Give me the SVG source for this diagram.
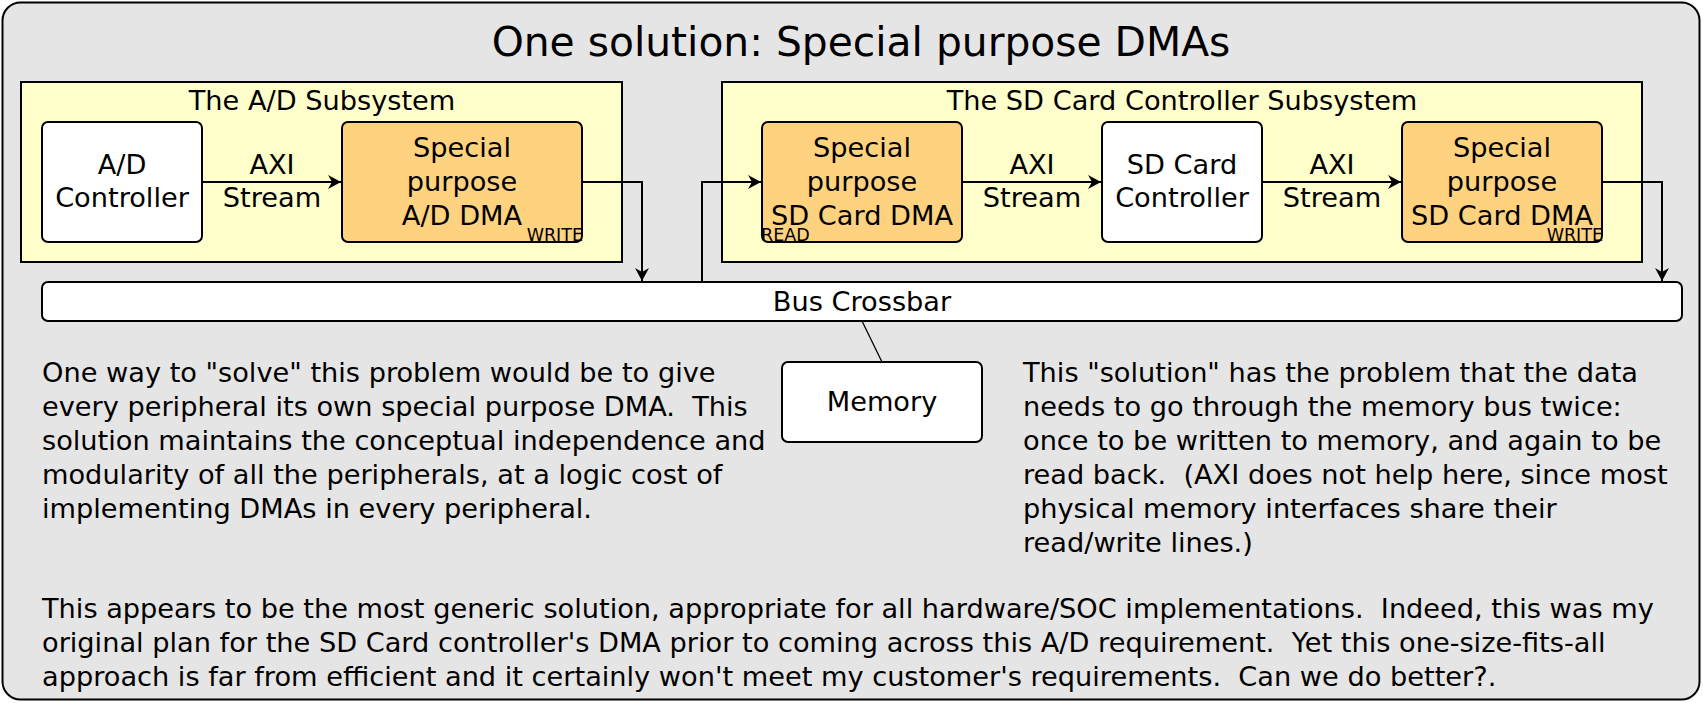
<svg xmlns="http://www.w3.org/2000/svg" width="1703" height="703" viewBox="0 0 1703 703">
<style>
text{font-family:"DejaVu Sans","Liberation Sans",sans-serif;fill:#000;white-space:pre}
.t{font-size:27.2px}
.c{text-anchor:middle}
.s{font-size:17.5px}
.box{stroke:#000;stroke-width:2}
.w{fill:#fff}
.o{fill:#ffd27f}
.sub{fill:#ffffcc;stroke:#000;stroke-width:2}
.ln{fill:none;stroke:#000;stroke-width:2}
</style>
<defs>
<marker id="ah" markerWidth="14" markerHeight="14" refX="13" refY="7" orient="auto" markerUnits="userSpaceOnUse">
<path d="M0,0 L13,7 L0,14 L4,7 z" fill="#000"/>
</marker>
</defs>
<rect x="2.5" y="2.5" width="1697" height="697" rx="18" fill="#e5e5e5" stroke="#000" stroke-width="2"/>
<text x="861" y="56" class="c" style="font-size:40.8px">One solution: Special purpose DMAs</text>

<g id="ad-subsystem">
<rect class="sub" x="21" y="82" width="601" height="180"/>
<text x="322" y="110" class="t c">The A/D Subsystem</text>
</g>
<g id="sd-subsystem">
<rect class="sub" x="722" y="82" width="920" height="180"/>
<text x="1182" y="110" class="t c">The SD Card Controller Subsystem</text>
</g>

<g id="connectors">
<line class="ln" x1="202" y1="182" x2="341" y2="182" marker-end="url(#ah)"/>
<polyline class="ln" points="582,182 642,182 642,281" marker-end="url(#ah)"/>
<polyline class="ln" points="702,282 702,182 761,182" marker-end="url(#ah)"/>
<line class="ln" x1="962" y1="182" x2="1101" y2="182" marker-end="url(#ah)"/>
<line class="ln" x1="1262" y1="182" x2="1401" y2="182" marker-end="url(#ah)"/>
<polyline class="ln" points="1602,182 1662,182 1662,281" marker-end="url(#ah)"/>
<line x1="862" y1="321" x2="882" y2="362" stroke="#000" stroke-width="1.3"/>
<text x="272" y="174" class="t c">AXI</text>
<text x="272" y="207" class="t c">Stream</text>
<text x="1032" y="174" class="t c">AXI</text>
<text x="1032" y="207" class="t c">Stream</text>
<text x="1332" y="174" class="t c">AXI</text>
<text x="1332" y="207" class="t c">Stream</text>
</g>

<g id="ad-controller">
<rect class="box w" x="42" y="122" width="160" height="120" rx="6"/>
<text x="122" y="174" class="t c">A/D</text>
<text x="122" y="207" class="t c">Controller</text>
</g>
<g id="ad-dma">
<rect class="box o" x="342" y="122" width="240" height="120" rx="6"/>
<text x="462" y="157" class="t c">Special</text>
<text x="462" y="191" class="t c">purpose</text>
<text x="462" y="225" class="t c">A/D DMA</text>
<text x="583" y="241" class="s" text-anchor="end">WRITE</text>
</g>
<g id="sd-read-dma">
<rect class="box o" x="762" y="122" width="200" height="120" rx="6"/>
<text x="862" y="157" class="t c">Special</text>
<text x="862" y="191" class="t c">purpose</text>
<text x="862" y="225" class="t c">SD Card DMA</text>
<text x="761" y="241" class="s">READ</text>
</g>
<g id="sd-controller">
<rect class="box w" x="1102" y="122" width="160" height="120" rx="6"/>
<text x="1182" y="174" class="t c">SD Card</text>
<text x="1182" y="207" class="t c">Controller</text>
</g>
<g id="sd-write-dma">
<rect class="box o" x="1402" y="122" width="200" height="120" rx="6"/>
<text x="1502" y="157" class="t c">Special</text>
<text x="1502" y="191" class="t c">purpose</text>
<text x="1502" y="225" class="t c">SD Card DMA</text>
<text x="1603" y="241" class="s" text-anchor="end">WRITE</text>
</g>
<g id="bus-crossbar">
<rect class="box w" x="42" y="282" width="1640" height="39" rx="6"/>
<text x="862" y="311" class="t c">Bus Crossbar</text>
</g>
<g id="memory">
<rect class="box w" x="782" y="362" width="200" height="80" rx="6"/>
<text x="882" y="411" class="t c">Memory</text>
</g>

<g id="text-left">
<text x="42" y="382" class="t">One way to "solve" this problem would be to give</text>
<text x="42" y="416" class="t">every peripheral its own special purpose DMA.  This</text>
<text x="42" y="450" class="t">solution maintains the conceptual independence and</text>
<text x="42" y="484" class="t">modularity of all the peripherals, at a logic cost of</text>
<text x="42" y="518" class="t">implementing DMAs in every peripheral.</text>
</g>
<g id="text-right">
<text x="1023" y="382" class="t">This "solution" has the problem that the data</text>
<text x="1023" y="416" class="t">needs to go through the memory bus twice:</text>
<text x="1023" y="450" class="t">once to be written to memory, and again to be</text>
<text x="1023" y="484" class="t">read back.  (AXI does not help here, since most</text>
<text x="1023" y="518" class="t">physical memory interfaces share their</text>
<text x="1023" y="552" class="t">read/write lines.)</text>
</g>
<g id="text-bottom">
<text x="42" y="618" class="t">This appears to be the most generic solution, appropriate for all hardware/SOC implementations.  Indeed, this was my</text>
<text x="42" y="652" class="t">original plan for the SD Card controller's DMA prior to coming across this A/D requirement.  Yet this one-size-fits-all</text>
<text x="42" y="686" class="t">approach is far from efficient and it certainly won't meet my customer's requirements.  Can we do better?.</text>
</g>
</svg>
